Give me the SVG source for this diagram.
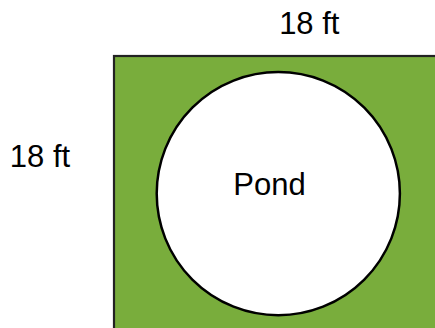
<svg xmlns="http://www.w3.org/2000/svg" width="435" height="328" viewBox="0 0 435 328">
<style>
.lbl{font-family:"Liberation Sans",Arial,Helvetica,sans-serif;font-size:31px;fill:#000;text-anchor:middle}
</style>
<rect width="435" height="328" fill="#fff"/>
<g id="yard">
<rect x="114" y="56" width="340" height="290" fill="#79ad3c" stroke="#222" stroke-width="2.2"/>
</g>
<g id="pond">
<circle cx="278.3" cy="193.6" r="121.6" fill="#fff" stroke="#000" stroke-width="2.5"/>
<text class="lbl" x="269.5" y="194.8">Pond</text>
</g>
<g id="labels">
<text class="lbl" x="309.3" y="33.6">18 ft</text>
<text class="lbl" x="40" y="167">18 ft</text>
</g>
<g id="connectors"/>
</svg>
